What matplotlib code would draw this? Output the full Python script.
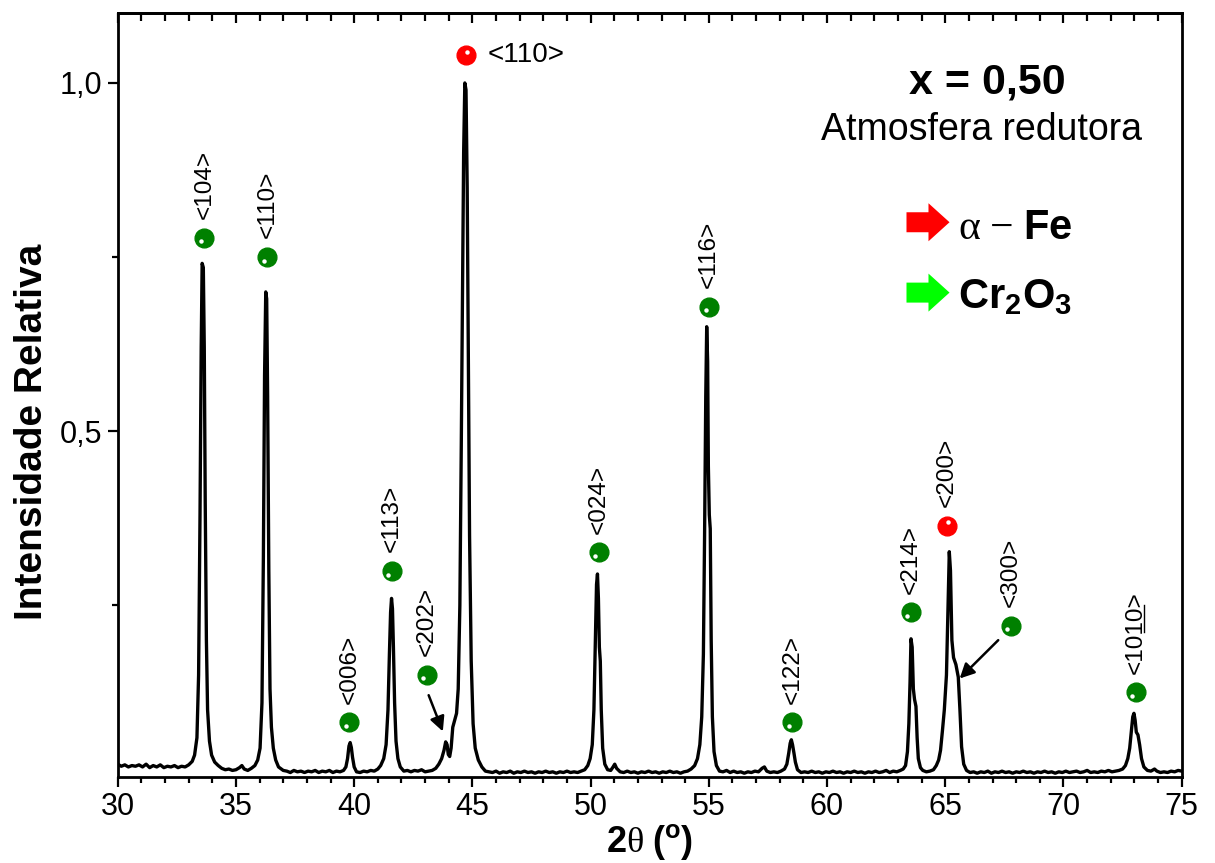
import numpy as np
import matplotlib
matplotlib.use('Agg')
import matplotlib.pyplot as plt
from matplotlib.patches import FancyArrow
from matplotlib.lines import Line2D
from matplotlib.ticker import MultipleLocator, FuncFormatter
from matplotlib.transforms import offset_copy, IdentityTransform

plt.rcParams['font.family'] = ['Liberation Sans', 'DejaVu Sans']
plt.rcParams['mathtext.fontset'] = 'custom'
plt.rcParams['mathtext.rm'] = 'Liberation Serif'
plt.rcParams['mathtext.it'] = 'Liberation Serif:italic'
plt.rcParams['mathtext.bf'] = 'Liberation Sans:bold'
plt.rcParams['mathtext.sf'] = 'Liberation Sans'

# difractograma (2theta, intensidade relativa)
two_theta = [
    30.00, 30.15, 30.30, 30.45, 30.60, 30.75, 30.90, 31.05, 31.20, 31.35, 31.50, 31.65, 31.80, 31.95,
    32.10, 32.25, 32.40, 32.55, 32.70, 32.85, 33.00, 33.15, 33.25, 33.35, 33.42, 33.48, 33.53, 33.57,
    33.62, 33.66, 33.70, 33.75, 33.80, 33.88, 33.97, 34.10, 34.25, 34.40, 34.55, 34.70, 34.85, 35.00,
    35.15, 35.25, 35.35, 35.50, 35.65, 35.80, 35.92, 36.02, 36.10, 36.16, 36.21, 36.26, 36.30, 36.34,
    36.39, 36.44, 36.50, 36.58, 36.68, 36.80, 37.00, 37.15, 37.30, 37.45, 37.60, 37.75, 37.90, 38.05,
    38.20, 38.35, 38.50, 38.65, 38.80, 38.95, 39.10, 39.25, 39.40, 39.55, 39.65, 39.72, 39.78, 39.83,
    39.88, 39.93, 40.00, 40.10, 40.25, 40.40, 40.55, 40.70, 40.85, 41.00, 41.12, 41.25, 41.35, 41.43,
    41.49, 41.54, 41.58, 41.62, 41.66, 41.71, 41.77, 41.85, 41.95, 42.10, 42.25, 42.40, 42.55, 42.70,
    42.85, 43.00, 43.15, 43.30, 43.45, 43.58, 43.70, 43.80, 43.87, 43.93, 43.98, 44.04, 44.10, 44.17,
    44.25, 44.33, 44.40, 44.47, 44.53, 44.58, 44.63, 44.68, 44.73, 44.78, 44.83, 44.88, 44.95, 45.03,
    45.12, 45.25, 45.40, 45.55, 45.70, 45.85, 46.00, 46.15, 46.30, 46.45, 46.60, 46.75, 46.90, 47.05,
    47.20, 47.35, 47.50, 47.65, 47.80, 47.95, 48.10, 48.25, 48.40, 48.55, 48.70, 48.85, 49.00, 49.15,
    49.30, 49.45, 49.60, 49.75, 49.88, 49.98, 50.07, 50.14, 50.20, 50.25, 50.29, 50.33, 50.37, 50.41,
    50.45, 50.51, 50.60, 50.72, 50.85, 50.95, 51.02, 51.10, 51.25, 51.40, 51.55, 51.70, 51.85, 52.00,
    52.15, 52.30, 52.45, 52.60, 52.75, 52.90, 53.05, 53.20, 53.35, 53.50, 53.65, 53.80, 53.95, 54.10,
    54.25, 54.40, 54.52, 54.62, 54.70, 54.77, 54.82, 54.87, 54.91, 54.95, 54.98, 55.02, 55.06, 55.10,
    55.15, 55.22, 55.32, 55.45, 55.60, 55.75, 55.90, 56.05, 56.20, 56.35, 56.50, 56.65, 56.80, 56.95,
    57.10, 57.25, 57.35, 57.45, 57.60, 57.75, 57.90, 58.05, 58.20, 58.30, 58.38, 58.44, 58.49, 58.54,
    58.60, 58.66, 58.75, 58.90, 59.05, 59.20, 59.35, 59.50, 59.65, 59.80, 59.95, 60.10, 60.25, 60.40,
    60.55, 60.70, 60.85, 61.00, 61.15, 61.30, 61.45, 61.60, 61.75, 61.90, 62.05, 62.20, 62.35, 62.50,
    62.65, 62.80, 62.95, 63.10, 63.22, 63.32, 63.40, 63.46, 63.51, 63.55, 63.60, 63.65, 63.70, 63.76,
    63.81, 63.86, 63.95, 64.05, 64.20, 64.35, 64.50, 64.62, 64.72, 64.80, 64.88, 64.96, 65.05, 65.12,
    65.17, 65.22, 65.28, 65.35, 65.45, 65.55, 65.62, 65.69, 65.78, 65.90, 66.05, 66.20, 66.35, 66.50,
    66.65, 66.80, 66.95, 67.10, 67.25, 67.40, 67.55, 67.70, 67.85, 68.00, 68.15, 68.30, 68.45, 68.60,
    68.75, 68.90, 69.05, 69.20, 69.35, 69.50, 69.65, 69.80, 69.95, 70.10, 70.25, 70.40, 70.55, 70.70,
    70.85, 71.00, 71.15, 71.30, 71.45, 71.60, 71.75, 71.90, 72.05, 72.20, 72.35, 72.50, 72.62, 72.72,
    72.80, 72.87, 72.93, 72.98, 73.03, 73.08, 73.15, 73.22, 73.30, 73.40, 73.55, 73.70, 73.85, 73.95,
    74.10, 74.25, 74.40, 74.55, 74.70, 74.85, 75.00,
]
intensidade = [
    0.022, 0.019, 0.021, 0.018, 0.020, 0.019, 0.021, 0.018, 0.022, 0.017, 0.020, 0.018, 0.021, 0.017,
    0.019, 0.018, 0.020, 0.017, 0.019, 0.018, 0.021, 0.026, 0.035, 0.060, 0.150, 0.380, 0.620, 0.741,
    0.735, 0.620, 0.400, 0.200, 0.100, 0.055, 0.035, 0.025, 0.020, 0.016, 0.014, 0.015, 0.013, 0.014,
    0.017, 0.020, 0.015, 0.013, 0.016, 0.020, 0.028, 0.045, 0.110, 0.320, 0.580, 0.700, 0.690, 0.550,
    0.300, 0.130, 0.075, 0.045, 0.028, 0.018, 0.013, 0.012, 0.010, 0.013, 0.011, 0.012, 0.010, 0.012,
    0.011, 0.013, 0.010, 0.012, 0.011, 0.013, 0.010, 0.012, 0.011, 0.013, 0.018, 0.030, 0.048, 0.053,
    0.046, 0.032, 0.018, 0.011, 0.010, 0.012, 0.011, 0.013, 0.012, 0.015, 0.020, 0.030, 0.050, 0.100,
    0.180, 0.240, 0.260, 0.245, 0.190, 0.110, 0.055, 0.030, 0.018, 0.012, 0.013, 0.011, 0.013, 0.012,
    0.014, 0.011, 0.012, 0.013, 0.016, 0.022, 0.030, 0.042, 0.054, 0.050, 0.036, 0.033, 0.045, 0.075,
    0.085, 0.095, 0.130, 0.250, 0.480, 0.700, 0.900, 1.000, 0.990, 0.850, 0.600, 0.350, 0.170, 0.080,
    0.045, 0.028, 0.018, 0.012, 0.011, 0.010, 0.012, 0.009, 0.011, 0.010, 0.012, 0.009, 0.011, 0.010,
    0.012, 0.010, 0.011, 0.009, 0.011, 0.010, 0.012, 0.010, 0.011, 0.009, 0.011, 0.010, 0.012, 0.010,
    0.011, 0.010, 0.012, 0.014, 0.020, 0.030, 0.050, 0.100, 0.200, 0.280, 0.295, 0.260, 0.190, 0.170,
    0.100, 0.045, 0.022, 0.014, 0.013, 0.018, 0.022, 0.016, 0.011, 0.010, 0.012, 0.010, 0.011, 0.009,
    0.011, 0.010, 0.012, 0.010, 0.011, 0.009, 0.011, 0.010, 0.012, 0.010, 0.011, 0.009, 0.011, 0.012,
    0.015, 0.020, 0.030, 0.050, 0.090, 0.180, 0.350, 0.550, 0.650, 0.600, 0.450, 0.380, 0.360, 0.200,
    0.090, 0.040, 0.020, 0.012, 0.011, 0.013, 0.010, 0.012, 0.010, 0.011, 0.009, 0.011, 0.010, 0.012,
    0.011, 0.016, 0.018, 0.012, 0.010, 0.011, 0.010, 0.012, 0.015, 0.022, 0.038, 0.052, 0.057, 0.050,
    0.038, 0.025, 0.014, 0.010, 0.011, 0.010, 0.012, 0.010, 0.011, 0.009, 0.011, 0.010, 0.012, 0.010,
    0.011, 0.009, 0.011, 0.010, 0.012, 0.010, 0.011, 0.009, 0.011, 0.010, 0.012, 0.010, 0.011, 0.013,
    0.010, 0.012, 0.011, 0.013, 0.015, 0.020, 0.040, 0.080, 0.140, 0.202, 0.190, 0.130, 0.115, 0.105,
    0.060, 0.030, 0.017, 0.013, 0.011, 0.012, 0.014, 0.020, 0.028, 0.042, 0.070, 0.100, 0.150, 0.250,
    0.327, 0.300, 0.200, 0.175, 0.165, 0.147, 0.100, 0.047, 0.022, 0.013, 0.010, 0.011, 0.009, 0.011,
    0.010, 0.012, 0.009, 0.011, 0.010, 0.012, 0.010, 0.011, 0.009, 0.011, 0.010, 0.012, 0.010, 0.011,
    0.009, 0.011, 0.010, 0.012, 0.010, 0.011, 0.009, 0.011, 0.010, 0.012, 0.010, 0.011, 0.012, 0.010,
    0.011, 0.013, 0.010, 0.011, 0.010, 0.012, 0.011, 0.013, 0.011, 0.012, 0.013, 0.015, 0.020, 0.030,
    0.045, 0.070, 0.090, 0.095, 0.085, 0.068, 0.064, 0.050, 0.030, 0.018, 0.013, 0.012, 0.015, 0.012,
    0.010, 0.011, 0.010, 0.012, 0.011, 0.013, 0.012,
]

# Cr2O3 reflections (marker position) and alpha-Fe reflections
cr_pos = [33.66, 36.33, 39.80, 41.58, 43.06, 50.35, 55.01, 58.53, 63.53, 67.77, 73.06]
cr_y = [0.778, 0.750, 0.082, 0.299, 0.150, 0.326, 0.679, 0.082, 0.240, 0.221, 0.125]
cr_labels = ['<104>', '<110>', '<006>', '<113>', '<202>', '<024>', '<116>', '<122>',
             '<214>', '<300>', '<1010>']
fe_pos = [44.72, 65.06]
fe_y = [1.040, 0.364]
fe_labels = ['<110>', '<200>']

# arrows pointing to the weak peaks (tail, head)
arrows_202 = [(43.15, 0.121), (43.75, 0.069)]
arrows_300 = [(67.24, 0.200), (65.61, 0.145)]

fig = plt.figure(figsize=(12.15, 8.63), dpi=100)
ax = fig.add_axes([0.0969, 0.1000, 0.8757, 0.8846])

ax.plot(two_theta, intensidade, color='black', lw=2.4)

ax.set_xlim(30, 75)
ax.set_ylim(0.004, 1.1)

dot_off = offset_copy(ax.transData, fig=fig, x=-2.5, y=-2.5, units='points')
ax.plot(cr_pos, cr_y, 'o', color='#008000', ms=13.5, mec='#008000', zorder=5)
ax.plot(cr_pos, cr_y, 'o', color='white', ms=3.2, mew=0, transform=dot_off, zorder=6)
ax.plot(fe_pos, fe_y, 'o', color='#ff0000', ms=13.5, mec='#ff0000', zorder=5)
ax.plot(fe_pos, fe_y, 'o', color='white', ms=3.2, mew=0,
        transform=offset_copy(ax.transData, fig=fig, x=1.0, y=2.5, units='points'), zorder=6)

lab_size = 17.5
cr_texts = []
for x, y, lab in zip(cr_pos, cr_y, cr_labels):
    cr_texts.append(ax.text(x, y + 0.027, lab, rotation=90, ha='center', va='bottom', fontsize=lab_size))
ax.text(fe_pos[0] + 0.93, fe_y[0], fe_labels[0], ha='left', va='center', fontsize=20)
ax.text(fe_pos[1], fe_y[1] + 0.027, fe_labels[1], rotation=90, ha='center', va='bottom', fontsize=lab_size)

for tail, head in [arrows_202, arrows_300]:
    ax.annotate('', xy=head, xytext=tail,
                arrowprops=dict(arrowstyle='-|>', color='black', lw=1.8,
                                mutation_scale=22, shrinkA=0, shrinkB=0))

# composition and legend
ax.text(66.76, 1.001, 'x = 0,50', ha='center', va='center', fontsize=31, fontweight='bold')
ax.text(66.55, 0.932, 'Atmosfera redutora', ha='center', va='center', fontsize=27)
for yc, col in [(0.800, '#ff0000'), (0.699, '#00ff00')]:
    ax.add_patch(FancyArrow(63.36, yc, 1.82, 0, width=0.0287, head_width=0.0546,
                            head_length=0.89, length_includes_head=True,
                            color=col, lw=0))
ax.text(65.55, 0.792, r'$\mathrm{\alpha}\ \mathrm{-}\ \mathbf{Fe}$', ha='left', va='center', fontsize=30)
ax.text(65.55, 0.693, r'$\mathbf{Cr_2O_3}$', ha='left', va='center', fontsize=30)

# axes styling
for sp in ax.spines.values():
    sp.set_linewidth(2.0)
ax.xaxis.set_major_locator(MultipleLocator(5))
ax.xaxis.set_minor_locator(MultipleLocator(1))
ax.yaxis.set_major_locator(MultipleLocator(0.5))
ax.yaxis.set_minor_locator(MultipleLocator(0.25))
ax.yaxis.set_major_formatter(FuncFormatter(lambda v, p: ('%.1f' % v).replace('.', ',')))
ax.xaxis.set_major_formatter(FuncFormatter(lambda v, p: '%d' % v))
ax.tick_params(which='both', direction='out', width=1.6, labelsize=22, top=False, right=False)
ax.tick_params(which='major', length=7, pad=4)
ax.tick_params(which='minor', length=4.5)

top = ax.secondary_xaxis('top')
top.xaxis.set_major_locator(MultipleLocator(5))
top.xaxis.set_minor_locator(MultipleLocator(1))
top.tick_params(which='both', direction='in', width=1.6, labeltop=False)
top.tick_params(which='major', length=7.5)
top.tick_params(which='minor', length=5.5)
top.spines['top'].set_linewidth(2.0)

ax.set_xlabel(r'$\mathbf{2}\mathrm{\theta}\ \mathbf{(^o)}$', fontsize=26)
ax.xaxis.label.set_va('center')
ax.xaxis.set_label_coords(0.5, -0.086)
ax.set_ylabel('Intensidade Relativa', fontsize=28, fontweight='bold')
ax.yaxis.label.set_va('center')
ax.yaxis.set_label_coords(-0.0806, 0.452)

# underline the last "10" of <1010> (rotated text, so the line runs vertically)
fig.canvas.draw()
rend = fig.canvas.get_renderer()
t = cr_texts[-1]
bb = t.get_window_extent(rend)


def text_len(s):
    tmp = ax.text(0, 0, s, fontsize=lab_size)
    w = tmp.get_window_extent(rend).width
    tmp.remove()
    return w


y_a = bb.y0 + text_len('<10')
y_b = bb.y0 + text_len('<1010')
ux = bb.x1 - 2.5
fig.add_artist(Line2D([ux, ux], [y_a, y_b], transform=IdentityTransform(), color='black', lw=1.0))

fig.savefig('out.png', dpi=100)
